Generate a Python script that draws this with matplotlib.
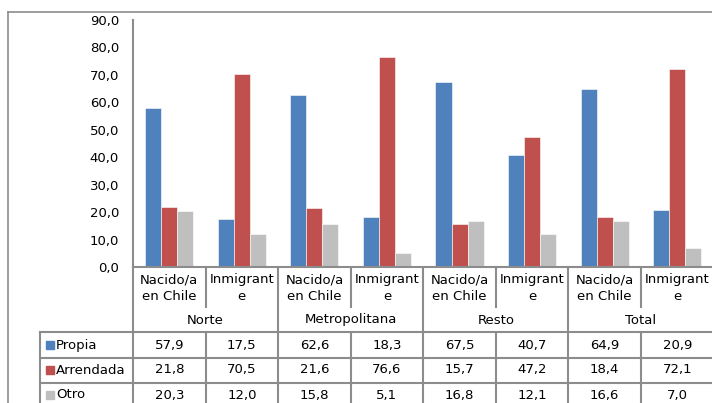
import matplotlib.pyplot as plt
from matplotlib.lines import Line2D
from matplotlib.patches import Rectangle

# datos
grupos = ["Norte", "Metropolitana", "Resto", "Total"]
subcategorias = ["Nacido/a\nen Chile", "Inmigrant\ne"]
series = ["Propia", "Arrendada", "Otro"]
propia = [57.9, 17.5, 62.6, 18.3, 67.5, 40.7, 64.9, 20.9]
arrendada = [21.8, 70.5, 21.6, 76.6, 15.7, 47.2, 18.4, 72.1]
otro = [20.3, 12.0, 15.8, 5.1, 16.8, 12.1, 16.6, 7.0]
colores = ["#4F81BD", "#C0504D", "#BFBFBF"]

W, H = 712, 403
gris = "#8c8c8c"
fs = 9.5


def fx(px):
    return px / W


def fy(py):
    return 1 - py / H


fig = plt.figure(figsize=(W / 100, H / 100), dpi=100)

# area del grafico (x0=133, y0=267, top=20 px)
x_izq, x_der = 133, 713.5
y_top, y_cero = 20, 267
ax = fig.add_axes([fx(x_izq), fy(y_cero), fx(x_der - x_izq), (y_cero - y_top) / H])

n = len(propia)
xs = list(range(n))
ancho = 0.221
for k, (vals, col) in enumerate(zip([propia, arrendada, otro], colores)):
    pos = [x + (k - 1) * ancho for x in xs]
    ax.bar(pos, vals, width=ancho, color=col, edgecolor="white", linewidth=0.4)

ax.set_xlim(-0.5, n - 0.5)
ax.set_ylim(0, 90)
ax.set_yticks(range(0, 91, 10))
ax.set_yticklabels([f"{v:.1f}".replace(".", ",") for v in range(0, 91, 10)], fontsize=fs)
ax.set_xticks([])
ax.tick_params(axis="y", length=0, pad=10)
for s in ["top", "right"]:
    ax.spines[s].set_visible(False)
ax.spines["left"].set_color(gris)
ax.spines["bottom"].set_color(gris)
ax.spines["left"].set_linewidth(1.5)
ax.spines["bottom"].set_linewidth(1.5)


def linea(x0, y0, x1, y1, lw=1.5):
    fig.add_artist(Line2D([fx(x0), fx(x1)], [fy(y0), fy(y1)], color=gris, lw=lw))


# borde exterior
linea(8, 12, W, 12, 1.2)
linea(8, 12, 8, H, 1.2)

# tabla de datos
paso = (x_der - x_izq) / n
y_fila = [332, 357.5, 382.5]
for yy in y_fila:
    linea(40, yy, W, yy)
linea(40, y_fila[0], 40, H)
linea(x_izq, y_cero, x_izq, H)
for i in range(1, n):
    xx = x_izq + i * paso
    if i % 2 == 0:
        linea(xx, y_cero, xx, H)
    else:
        linea(xx, y_cero, xx, 307)
        linea(xx, y_fila[0], xx, H)

for i in range(n):
    cx = x_izq + (i + 0.5) * paso
    fig.text(fx(cx), fy(288), subcategorias[i % 2], ha="center", va="center",
             fontsize=fs, linespacing=1.35)

for g, nombre in enumerate(grupos):
    cx = x_izq + (2 * g + 1) * paso
    fig.text(fx(cx), fy(320), nombre, ha="center", va="center", fontsize=fs)

filas = [propia, arrendada, otro]
centros_y = [345, 370, 395]
for r, (vals, nombre, col, cy) in enumerate(zip(filas, series, colores, centros_y)):
    fig.add_artist(Rectangle((fx(46), fy(cy + 4)), fx(8), 8 / H, color=col,
                             transform=fig.transFigure))
    fig.text(fx(56), fy(cy), nombre, ha="left", va="center", fontsize=fs)
    for i, v in enumerate(vals):
        cx = x_izq + (i + 0.5) * paso
        fig.text(fx(cx), fy(cy), f"{v:.1f}".replace(".", ","), ha="center",
                 va="center", fontsize=fs)

fig.savefig("out.png", dpi=100)
